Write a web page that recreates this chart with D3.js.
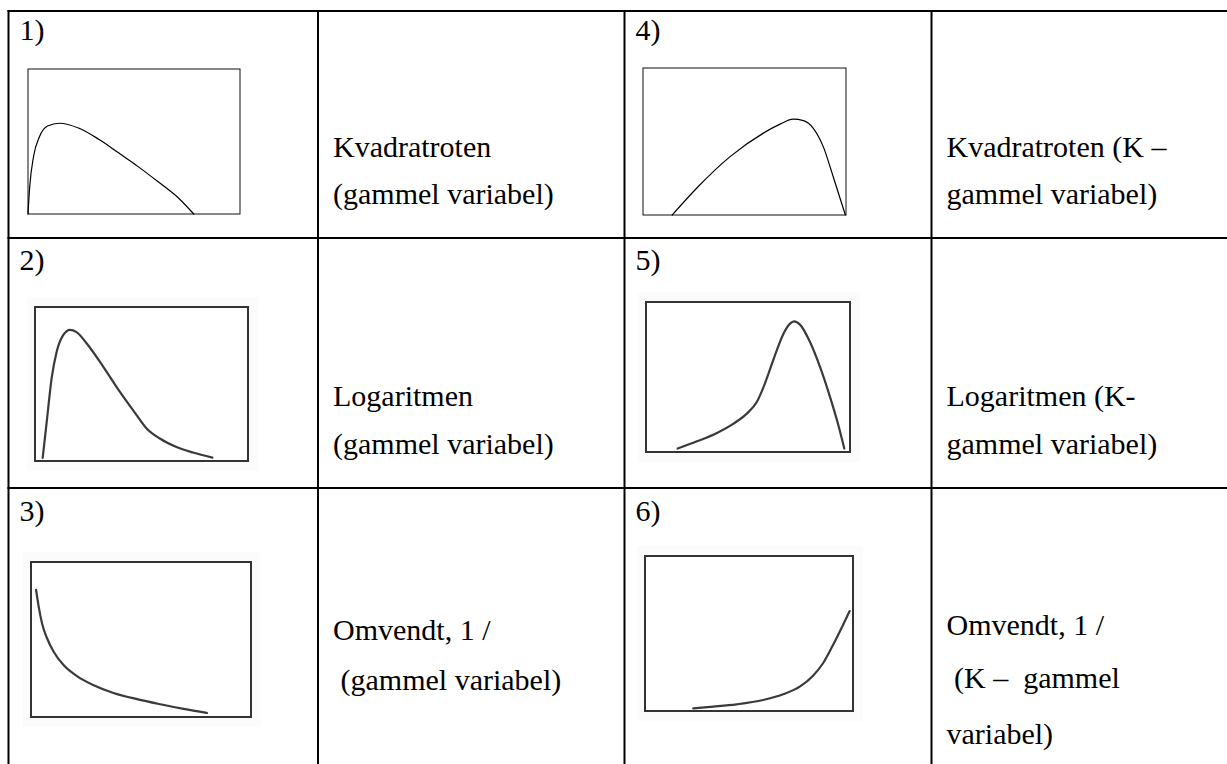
<!DOCTYPE html>
<html>
<head>
<meta charset="utf-8">
<script src="https://cdn.jsdelivr.net/npm/d3@7/dist/d3.min.js"></script>
<style>
  html, body { margin: 0; padding: 0; background: #fff; }
  svg { display: block; }
  svg text { font-family: "Liberation Serif", "DejaVu Serif", serif; }
</style>
</head>
<body>
<svg id="chart"></svg>
<script>
// panel labels and the transformation text next to each sketch
const panelLabels = ["1)", "2)", "3)", "4)", "5)", "6)"];
const panelText = [
  ["Kvadratroten", "(gammel variabel)"],
  ["Logaritmen", "(gammel variabel)"],
  ["Omvendt, 1 /", " (gammel variabel)"],
  ["Kvadratroten (K \u2013", "gammel variabel)"],
  ["Logaritmen (K-", "gammel variabel)"],
  ["Omvendt, 1 /", " (K \u2013  gammel", "variabel)"]
];

// sketched distribution curves, x and y in 0..100 of each little box
const curve1 = [[0, 0], [0.8, 18.7], [2.6, 39.5], [5.4, 53.3], [9.2, 60.7], [14.8, 62.6], [24.1, 59.1],
  [33.4, 51.5], [42.7, 42.2], [52.1, 32.5], [61.4, 22.2], [70.7, 11.4], [78.2, 0]];
const curve2 = [[3.6, 2.0], [5.5, 25.4], [7.8, 53.7], [10.2, 71.1], [13.3, 81.9], [16.4, 85.2], [19.5, 83.7],
  [24.2, 76.5], [32.0, 61.3], [39.8, 45.0], [47.7, 29.8], [52.4, 21.1], [58.6, 14.6], [66.4, 9.1],
  [74.2, 5.5], [83.3, 2.2]];
const curve3 = [[2.3, 82.1], [3.5, 71.2], [5.0, 60.5], [7.3, 50.8], [10.3, 42.1], [14.8, 33.5], [20.9, 26.4],
  [28.5, 20.5], [37.5, 15.5], [48.2, 11.5], [58.8, 8.2], [69.4, 5.2], [80.0, 2.6]];
const curve4 = [[14.4, 0], [26.4, 18.2], [42.9, 39.7], [59.3, 55.7], [67.5, 61.8], [74.0, 65.2], [79.0, 64.2],
  [83.9, 59.0], [88.8, 46.5], [93.7, 26.0], [99.7, 0]];
const curve5 = [[15.5, 2.3], [25.0, 7.1], [34.8, 12.7], [42.9, 18.9], [49.4, 25.6], [54.3, 33.3], [57.6, 43.3],
  [60.9, 55.6], [64.1, 67.8], [67.4, 78.9], [70.6, 85.6], [72.6, 87.1], [75.5, 84.9], [80.4, 73.3],
  [85.3, 56.7], [90.2, 36.7], [94.3, 17.8], [97.2, 2.3]];
const curve6 = [[23.2, 1.7], [32.8, 2.8], [44.0, 4.3], [56.8, 7.1], [66.4, 10.8], [74.4, 15.7], [80.8, 22.8],
  [85.6, 30.8], [90.4, 42.6], [95.2, 55.5], [98.4, 64.5]];
const curves = [curve1, curve2, curve3, curve4, curve5, curve6];

// ---- layout ----
const width = 1227, height = 764;
const colEdges = [8.5, 318, 624.5, 931.5, 1240];
const rowEdges = [11, 238, 488, 775];

// sketch boxes (x0, y0, x1, y1); 1 and 4 are clean vector plots, the rest scanned images
const boxes = [
  { x0: 28, y0: 69, x1: 240, y1: 214, scan: false },
  { x0: 35, y0: 307, x1: 248, y1: 461, scan: true },
  { x0: 31, y0: 562, x1: 251, y1: 717, scan: true },
  { x0: 643, y0: 68, x1: 846, y1: 215, scan: false },
  { x0: 646, y0: 302, x1: 850, y1: 452, scan: true },
  { x0: 645, y0: 556, x1: 853, y1: 711, scan: true }
];
const labelBase = [40, 270, 521];
const textBase = [[157, 204], [406, 454], [640, 690], [157, 204], [406, 454], [635, 688, 744]];

const svg = d3.select("#chart")
  .attr("width", width)
  .attr("height", height);

// table grid
const grid = svg.append("g").attr("stroke", "#000").attr("stroke-width", 2);
colEdges.forEach(x => grid.append("line")
  .attr("x1", x).attr("x2", x).attr("y1", rowEdges[0] - 1).attr("y2", rowEdges[rowEdges.length - 1]));
rowEdges.forEach(y => grid.append("line")
  .attr("x1", colEdges[0] - 1).attr("x2", colEdges[colEdges.length - 1]).attr("y1", y).attr("y2", y));

panelLabels.forEach((lab, i) => {
  const col = i < 3 ? 0 : 2;
  const row = i % 3;
  const b = boxes[i];

  // number label in the top-left corner
  svg.append("text")
    .attr("x", colEdges[col] + 11)
    .attr("y", labelBase[row])
    .attr("font-family", "Liberation Serif")
    .attr("font-size", 30)
    .text(lab);

  const x = d3.scaleLinear().domain([0, 100]).range([b.x0, b.x1]);
  const y = d3.scaleLinear().domain([0, 100]).range([b.y1, b.y0]);

  const g = svg.append("g");
  if (b.scan) {
    g.append("rect")
      .attr("x", b.x0 - 8).attr("y", b.y0 - 10)
      .attr("width", b.x1 - b.x0 + 18).attr("height", b.y1 - b.y0 + 20)
      .attr("fill", "#fbfbfb");
  }
  g.append("rect")
    .attr("x", b.x0).attr("y", b.y0)
    .attr("width", b.x1 - b.x0).attr("height", b.y1 - b.y0)
    .attr("fill", "#fff")
    .attr("stroke", b.scan ? "#333" : "#111")
    .attr("stroke-width", b.scan ? 2 : 1);

  const line = d3.line()
    .x(d => x(d[0]))
    .y(d => y(d[1]))
    .curve(d3.curveMonotoneX);

  g.append("path")
    .datum(curves[i])
    .attr("d", line)
    .attr("fill", "none")
    .attr("stroke", b.scan ? "#3a3a3a" : "#000")
    .attr("stroke-width", b.scan ? 2.2 : 1.2)
    .attr("stroke-linecap", "round");

  // description text in the next column
  panelText[i].forEach((t, k) => {
    svg.append("text")
      .attr("x", colEdges[col + 1] + 15)
      .attr("y", textBase[i][k])
      .attr("xml:space", "preserve")
      .attr("font-family", "Liberation Serif")
      .attr("font-size", 30)
      .style("white-space", "pre")
      .text(t);
  });
});
</script>
</body>
</html>
